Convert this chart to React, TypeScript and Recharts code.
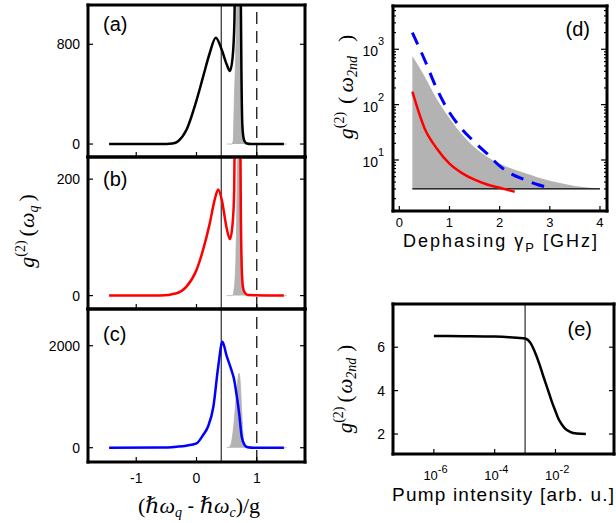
import React from 'react';
import { ComposedChart, Line, Area, XAxis, YAxis, ReferenceLine } from 'recharts';

const W = 616;
const H = 523;
const SANS = '"Liberation Sans", Arial, Helvetica, sans-serif';
const SERIF = '"Liberation Serif", "DejaVu Serif", serif';
const GRAY = '#b3b3b3';

// left column: detuning axis shared by (a)-(c)
const detDomain = [-1.8, 1.8];
const detTicks = [-1, 0, 1];
const qubitLine = 0.41;
const cavityLine = 1;

// (a) black
const aX = [-1.45, -0.6, -0.4, -0.3, -0.17, 0, 0.11, 0.22, 0.32, 0.42, 0.5, 0.555, 0.6, 0.63, 0.65, 0.68, 0.71, 0.73, 0.745, 0.76, 0.78, 0.8, 0.84, 0.9, 1.45];
const aY = [0, 0, 5, 25, 110, 350, 540, 730, 853, 755, 640, 586, 700, 1000, 1800, 3000, 2600, 1500, 600, 160, 50, 20, 4, 0, 0];
const aGX = [0.5, 0.59, 0.61, 0.627, 0.65, 0.667, 0.7, 0.733, 0.75, 0.78, 0.8, 1.5];
const aGY = [0, 0, 30, 350, 700, 1100, 3000, 1100, 350, 30, 0, 0];
const aTicks = [0, 800];

// (b) red
const bX = [-1.45, -0.6, -0.33, -0.17, 0, 0.11, 0.22, 0.3, 0.36, 0.42, 0.5, 0.555, 0.6, 0.625, 0.645, 0.67, 0.7, 0.72, 0.735, 0.75, 0.77, 0.8, 0.85, 1.45];
const bY = [0, 0, 4, 15, 44, 79, 124, 164, 182, 164, 116, 97, 125, 180, 400, 700, 650, 400, 150, 50, 15, 5, 1, 0];
const bGX = [0.5, 0.6, 0.62, 0.64, 0.655, 0.677, 0.7, 0.733, 0.75, 0.77, 0.79, 0.81, 1.5];
const bGY = [0, 0, 8, 30, 70, 225, 600, 225, 70, 20, 3, 0, 0];
const bTicks = [0, 200];

// (c) blue
const cX = [-1.45, -0.6, -0.33, -0.17, 0, 0.11, 0.19, 0.28, 0.36, 0.43, 0.5, 0.58, 0.62, 0.67, 0.71, 0.75, 0.8, 0.85, 0.95, 1.45];
const cY = [0, 2, 20, 40, 86, 250, 410, 804, 1588, 2078, 1800, 1520, 1360, 1000, 650, 216, 50, 10, 0, 0];
const cGX = [0.5, 0.53, 0.57, 0.61, 0.67, 0.705, 0.73, 0.75, 0.78, 0.8, 0.82, 1.5];
const cGY = [0, 5, 60, 347, 1131, 1460, 1200, 700, 150, 30, 0, 0];
const cTicks = [0, 2000];

// (d) dephasing
const dGX = [0.26, 0.5, 0.75, 1.0, 1.25, 1.5, 1.75, 2.0, 2.5, 3.0, 3.5, 4.0];
const dGY = [757, 330, 125, 57, 29, 17, 11.5, 8.6, 5.8, 4.2, 3.4, 3.05];
const dRX = [0.26, 0.5, 0.75, 1.0, 1.25, 1.5, 1.75, 2.0, 2.3];
const dRY = [171, 38, 16, 8.6, 5.8, 4.4, 3.6, 3.15, 2.67];
const dBX = [0.26, 0.5, 0.75, 1.0, 1.25, 1.5, 1.75, 2.0, 2.25, 2.5, 2.75, 2.9];
const dBY = [2000, 660, 190, 72, 36, 21, 13, 7.8, 5.5, 4.4, 3.6, 3.3];
const dFloorX = [0.26, 4.0];
const dFloorY = [3, 3];
const dFloor = 3;
const dXTicks = [0, 1, 2, 3, 4];
const dDecades = [1, 10, 100, 1000];

// (e) pump
const eX = [1e-6, 1e-5, 1e-4, 3e-4, 1e-3, 1.5e-3, 2e-3, 3e-3, 4e-3, 5e-3, 6e-3, 8e-3, 1e-2, 1.25e-2, 1.6e-2, 2e-2, 3e-2, 5e-2, 0.1];
const eY = [6.52, 6.51, 6.49, 6.46, 6.4, 6.2, 5.85, 5.2, 4.65, 4.25, 3.92, 3.4, 3.05, 2.7, 2.45, 2.27, 2.1, 2.02, 2.0];
const eXTicks = [1e-6, 1e-4, 1e-2];
const eYTicks = [2, 4, 6];
const eMarker = 1e-3;

const zip = (xs: number[], ys: number[]) => xs.map((x, i) => ({ x, y: ys[i] }));

type Rect = { x0: number; x1: number; y0: number; y1: number };
// axes are 1px thick, so the margins leave room for them
const marginOf = (r: Rect) => ({ left: r.x0 - 1, right: W - r.x1 - 1, top: r.y0 - 1, bottom: H - r.y1 - 1 });

type Side = 'left' | 'right' | 'top' | 'bottom';
type LabelFn = (v: number, x: number, y: number) => React.ReactNode;

const makeTick = (side: Side, lenOf: (v: number) => number, label?: LabelFn) => (p: any) => {
  const { x, y, payload } = p;
  const v = payload.value as number;
  const len = lenOf(v);
  const d = { bottom: [0, -len], top: [0, len], left: [len, 0], right: [-len, 0] }[side];
  return (
    <g>
      <line x1={x} y1={y} x2={x + d[0]} y2={y + d[1]} stroke="#000" strokeWidth={1.2} />
      {label ? label(v, x, y) : null}
    </g>
  );
};

const AXIS_LINE = { stroke: '#000', strokeWidth: 3, strokeLinecap: 'square' as const };
const tickFont = { fontFamily: SANS, fontSize: 14, fill: '#000' };

const isDecade = (v: number) => Math.abs(Math.log10(v) - Math.round(Math.log10(v))) < 1e-9;

type FrameOpts = {
  xDomain: number[];
  xTicks: number[];
  xLog?: boolean;
  yDomain: number[];
  yTicks: number[];
  yLog?: boolean;
  xLabel?: LabelFn;
  yLabel?: LabelFn;
  xLen?: (v: number) => number;
  yLen?: (v: number) => number;
};

function frame(o: FrameOpts) {
  const xLen = o.xLen || (() => 5);
  const yLen = o.yLen || (() => 5);
  const common = {
    type: 'number' as const,
    allowDataOverflow: true,
    tickSize: 0,
    tickMargin: 0,
    interval: 0 as const,
    tickLine: false,
    axisLine: AXIS_LINE,
  };
  return [
    <XAxis key="x" xAxisId="x" dataKey="x" orientation="bottom" height={1} domain={o.xDomain} ticks={o.xTicks}
      scale={o.xLog ? 'log' : 'linear'} tick={makeTick('bottom', xLen, o.xLabel)} {...common} />,
    <XAxis key="xt" xAxisId="xt" orientation="top" height={1} domain={o.xDomain} ticks={o.xTicks}
      scale={o.xLog ? 'log' : 'linear'} tick={makeTick('top', xLen)} {...common} />,
    <YAxis key="y" yAxisId="y" dataKey="y" orientation="left" width={1} domain={o.yDomain} ticks={o.yTicks}
      scale={o.yLog ? 'log' : 'linear'} tick={makeTick('left', yLen, o.yLabel)} {...common} />,
    <YAxis key="yr" yAxisId="yr" orientation="right" width={1} domain={o.yDomain} ticks={o.yTicks}
      scale={o.yLog ? 'log' : 'linear'} tick={makeTick('right', yLen)} {...common} />,
  ];
}

const leftYLabel: LabelFn = (v, x, y) => (
  <text x={x - 8} y={y + 5} textAnchor="end" {...tickFont}>{v}</text>
);
const bottomLabel: LabelFn = (v, x, y) => (
  <text x={x} y={y + 21} textAnchor="middle" {...tickFont}>{v}</text>
);
const dXLabel: LabelFn = (v, x, y) => (
  <text x={x} y={y + 16} textAnchor="middle" {...tickFont} fontSize={13}>{v}</text>
);
const dYLabel: LabelFn = (v, x, y) =>
  isDecade(v) ? (
    <g>
      <text x={x - 15} y={y + 7} textAnchor="end" {...tickFont}>10</text>
      <text x={x - 15} y={y - 4} {...tickFont} fontSize={11}>{Math.round(Math.log10(v))}</text>
    </g>
  ) : null;
const eXLabel: LabelFn = (v, x, y) => (
  <g>
    <text x={x + 4} y={y + 26} textAnchor="end" {...tickFont} fontSize={13}>10</text>
    <text x={x + 4} y={y + 19} {...tickFont} fontSize={11}>{Math.round(Math.log10(v))}</text>
  </g>
);

const rectA: Rect = { x0: 88, x1: 305, y0: 5, y1: 157 };
const rectB: Rect = { x0: 88, x1: 305, y0: 157, y1: 309 };
const rectC: Rect = { x0: 88, x1: 305, y0: 309, y1: 462 };
const rectD: Rect = { x0: 393, x1: 607, y0: 6, y1: 211 };
const rectE: Rect = { x0: 393, x1: 614, y0: 304, y1: 454 };

const layer: React.CSSProperties = { position: 'absolute', left: 0, top: 0 };

function DetuningPanel(props: {
  rect: Rect; yDomain: number[]; yTicks: number[];
  xs: number[]; ys: number[]; gx: number[]; gy: number[];
  color: string; showX: boolean;
}) {
  const { rect, yDomain, yTicks, xs, ys, gx, gy, color, showX } = props;
  return (
    <div style={layer}>
      <ComposedChart width={W} height={H} margin={marginOf(rect)}>
        {frame({
          xDomain: detDomain, xTicks: detTicks, yDomain, yTicks,
          xLabel: showX ? bottomLabel : undefined, yLabel: leftYLabel,
        })}
        <Area xAxisId="x" yAxisId="y" data={zip(gx, gy)} dataKey="y" type="monotone"
          fill={GRAY} fillOpacity={1} stroke={GRAY} strokeWidth={0.8} isAnimationActive={false} />
        <ReferenceLine xAxisId="x" yAxisId="y" x={qubitLine} stroke="#000" strokeWidth={1} />
        <ReferenceLine xAxisId="x" yAxisId="y" x={cavityLine} stroke="#000" strokeWidth={1.2} strokeDasharray="12 7" />
        <Line xAxisId="x" yAxisId="y" data={zip(xs, ys)} dataKey="y" type="monotone"
          stroke={color} strokeWidth={2.5} dot={false} isAnimationActive={false} />
      </ComposedChart>
    </div>
  );
}

function DephasingPanel() {
  const ticks = dDecades
    .flatMap((d) => [1, 2, 3, 4, 5, 6, 7, 8, 9].map((k) => k * d))
    .filter((v) => v > 1.2 && v < 6050);
  const len = (v: number) => (isDecade(v) ? 6 : 3);
  return (
    <div style={layer}>
      <ComposedChart width={W} height={H} margin={marginOf(rectD)}>
        {frame({
          xDomain: [-0.126, 4.14], xTicks: dXTicks, yDomain: [1.198, 6050], yTicks: ticks, yLog: true,
          xLabel: dXLabel, yLabel: dYLabel, yLen: len,
        })}
        <Area xAxisId="x" yAxisId="y" data={zip(dGX, dGY)} dataKey="y" type="monotone" baseValue={dFloor}
          fill={GRAY} fillOpacity={1} stroke="none" isAnimationActive={false} />
        <Line xAxisId="x" yAxisId="y" data={zip(dFloorX, dFloorY)} dataKey="y" type="linear"
          stroke="#000" strokeWidth={1.3} dot={false} isAnimationActive={false} />
        <Line xAxisId="x" yAxisId="y" data={zip(dRX, dRY)} dataKey="y" type="monotone"
          stroke="#ff0000" strokeWidth={2.5} dot={false} isAnimationActive={false} />
        <Line xAxisId="x" yAxisId="y" data={zip(dBX, dBY)} dataKey="y" type="monotone"
          stroke="#0000ff" strokeWidth={3} strokeDasharray="13 9" dot={false} isAnimationActive={false} />
      </ComposedChart>
    </div>
  );
}

function PumpPanel() {
  return (
    <div style={layer}>
      <ComposedChart width={W} height={H} margin={marginOf(rectE)}>
        {frame({
          xDomain: [4.53e-8, 0.84], xTicks: eXTicks, xLog: true, yDomain: [1.08, 7.99], yTicks: eYTicks,
          xLabel: eXLabel, yLabel: leftYLabel,
        })}
        <ReferenceLine xAxisId="x" yAxisId="y" x={eMarker} stroke="#000" strokeWidth={1} />
        <Line xAxisId="x" yAxisId="y" data={zip(eX, eY)} dataKey="y" type="monotone"
          stroke="#000" strokeWidth={2.5} dot={false} isAnimationActive={false} />
      </ComposedChart>
    </div>
  );
}

function G2Label({ x, y, sub, size, gaps }: { x: number; y: number; sub: string; size: number; gaps: number[] }) {
  const s = Math.round(size * 0.65);
  return (
    <text transform={`translate(${x},${y}) rotate(-90)`} textAnchor="middle" fontFamily={SERIF}
      fontSize={size} fill="#000">
      <tspan fontStyle="italic">g</tspan>
      <tspan fontSize={s} dy={-9}>(2)</tspan>
      <tspan dy={9} dx={gaps[0]}>(</tspan>
      <tspan fontStyle="italic" dx={gaps[1]}>ω</tspan>
      <tspan fontSize={s} fontStyle="italic" dy={4}>{sub}</tspan>
      <tspan dy={-4} dx={gaps[2]}>)</tspan>
    </text>
  );
}

function Labels() {
  const letter = { fontFamily: SANS, fontSize: 20, fill: '#000' };
  return (
    <svg width={W} height={H} style={{ ...layer, pointerEvents: 'none' }}>
      <text x={103} y={31} {...letter}>(a)</text>
      <text x={103} y={186} {...letter}>(b)</text>
      <text x={103} y={341} {...letter}>(c)</text>
      <text x={590} y={36} textAnchor="end" {...letter}>(d)</text>
      <text x={592} y={336} textAnchor="end" {...letter}>(e)</text>
      <G2Label x={34} y={231} sub="q" size={22} gaps={[4, 1, 4]} />
      <G2Label x={353} y={87} sub="2nd" size={22} gaps={[8, 4, 14]} />
      <G2Label x={352} y={389} sub="2nd" size={21} gaps={[4, 2, 6]} />
      <text x={199} y={513} textAnchor="middle" fontFamily={SERIF} fontSize={22} fill="#000">
        <tspan>(</tspan>
        <tspan fontStyle="italic">ℏω</tspan>
        <tspan fontSize={14} fontStyle="italic" dy={4}>q</tspan>
        <tspan dy={-4} fontFamily={SANS} fontSize={20}> - </tspan>
        <tspan fontStyle="italic">ℏω</tspan>
        <tspan fontSize={14} fontStyle="italic" dy={4}>c</tspan>
        <tspan dy={-4}>)/g</tspan>
      </text>
      <text x={500} y={247} textAnchor="middle" fontFamily={SANS} fontSize={18} fill="#000"
        textLength={194} lengthAdjust="spacing">
        <tspan>Dephasing γ</tspan>
        <tspan fontSize={13} dy={5}>P</tspan>
        <tspan dy={-5}> [GHz]</tspan>
      </text>
      <text x={503} y={501} textAnchor="middle" fontFamily={SANS} fontSize={19} fill="#000"
        textLength={222} lengthAdjust="spacing">Pump intensity [arb. u.]</text>
    </svg>
  );
}

export default function App() {
  return (
    <div style={{ position: 'absolute', left: 0, top: 0, width: W, height: H, background: '#fff', overflow: 'hidden' }}>
      <DetuningPanel rect={rectA} yDomain={[-104, 1115]} yTicks={aTicks} xs={aX} ys={aY} gx={aGX} gy={aGY} color="#000" showX={false} />
      <DetuningPanel rect={rectB} yDomain={[-23, 238]} yTicks={bTicks} xs={bX} ys={bY} gx={bGX} gy={bGY} color="#ff0000" showX={false} />
      <DetuningPanel rect={rectC} yDomain={[-280, 2720]} yTicks={cTicks} xs={cX} ys={cY} gx={cGX} gy={cGY} color="#0000ff" showX={true} />
      <DephasingPanel />
      <PumpPanel />
      <Labels />
    </div>
  );
}
